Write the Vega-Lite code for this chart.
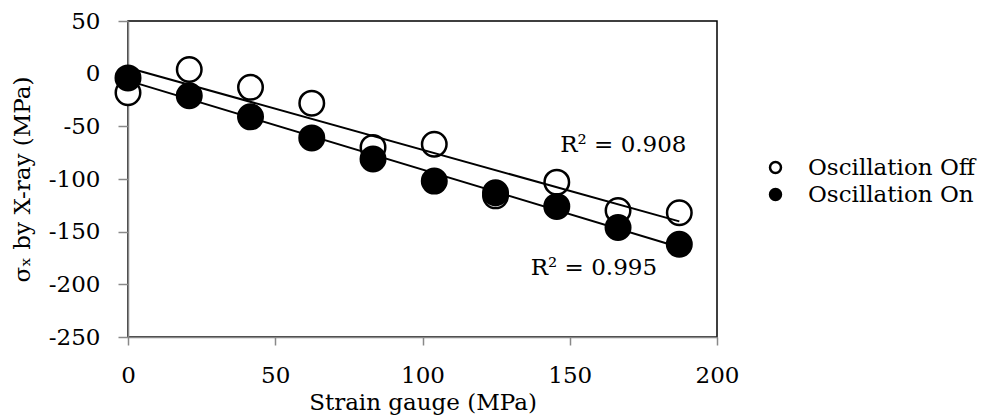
{
  "$schema": "https://vega.github.io/schema/vega-lite/v6.json",
  "width": 589,
  "height": 316,
  "autosize": {"type": "none"},
  "padding": {"left": 128, "top": 21, "right": 268, "bottom": 80},
  "background": "white",
  "config": {
    "view": {"stroke": "black", "strokeWidth": 1.5},
    "font": "DejaVu Serif"
  },
  "data": {
    "values": [
      {"series": "Oscillation Off", "x": 0, "y": -18},
      {"series": "Oscillation Off", "x": 20.8, "y": 4},
      {"series": "Oscillation Off", "x": 41.6, "y": -13},
      {"series": "Oscillation Off", "x": 62.4, "y": -28},
      {"series": "Oscillation Off", "x": 83.2, "y": -70},
      {"series": "Oscillation Off", "x": 104, "y": -67},
      {"series": "Oscillation Off", "x": 124.8, "y": -116},
      {"series": "Oscillation Off", "x": 145.6, "y": -103},
      {"series": "Oscillation Off", "x": 166.4, "y": -130},
      {"series": "Oscillation Off", "x": 187.2, "y": -132},
      {"series": "Oscillation On", "x": 0, "y": -4},
      {"series": "Oscillation On", "x": 20.8, "y": -21},
      {"series": "Oscillation On", "x": 41.6, "y": -41},
      {"series": "Oscillation On", "x": 62.4, "y": -61},
      {"series": "Oscillation On", "x": 83.2, "y": -81},
      {"series": "Oscillation On", "x": 104, "y": -102},
      {"series": "Oscillation On", "x": 124.8, "y": -113},
      {"series": "Oscillation On", "x": 145.6, "y": -126},
      {"series": "Oscillation On", "x": 166.4, "y": -146},
      {"series": "Oscillation On", "x": 187.2, "y": -162}
    ]
  },
  "layer": [
    {
      "mark": {"type": "point", "shape": "circle", "size": 600, "filled": true, "stroke": "black", "strokeWidth": 2.5, "opacity": 1},
      "encoding": {
        "x": {
          "field": "x", "type": "quantitative",
          "scale": {"domain": [0, 200], "nice": false, "zero": false},
          "axis": {
            "title": "Strain gauge (MPa)",
            "values": [0, 50, 100, 150, 200],
            "grid": false,
            "domainColor": "#898989", "domainWidth": 1.5,
            "tickColor": "#898989", "tickWidth": 1.5, "tickSize": 8,
            "labelPadding": 19, "labelFontSize": 23, "labelColor": "black",
            "labelFlush": false, "labelOverlap": false, "labelBound": false,
            "titleFontSize": 23, "titleFontWeight": "normal", "titleColor": "black",
            "titleX": 294.5, "titleY": 72, "titleBaseline": "alphabetic", "titleAlign": "center"
          }
        },
        "y": {
          "field": "y", "type": "quantitative",
          "scale": {"domain": [-250, 50], "nice": false, "zero": false},
          "axis": {
            "title": "σₓ by X-ray (MPa)",
            "values": [-250, -200, -150, -100, -50, 0, 50],
            "grid": false,
            "domainColor": "#898989", "domainWidth": 1.5,
            "tickColor": "#898989", "tickWidth": 1.5, "tickSize": 10,
            "labelPadding": 18, "labelFontSize": 23, "labelColor": "black",
            "labelOverlap": false, "labelBound": false, "labelFlush": false,
            "labelExpr": "datum.value < 0 ? '-' + abs(datum.value) : '' + datum.value",
            "titleFontSize": 23, "titleFontWeight": "normal", "titleColor": "black",
            "titleX": -99, "titleY": 158, "titleAngle": -90, "titleBaseline": "alphabetic", "titleAlign": "center"
          }
        },
        "fill": {
          "field": "series", "type": "nominal",
          "scale": {"domain": ["Oscillation Off", "Oscillation On"], "range": ["white", "black"]},
          "legend": {
            "orient": "none", "legendX": 636, "legendY": 135,
            "title": null, "symbolType": "circle", "symbolSize": 120,
            "symbolStrokeColor": "black", "symbolStrokeWidth": 2.5,
            "labelFontSize": 23, "labelColor": "black", "labelOffset": 21,
            "rowPadding": 3, "padding": 0, "labelLimit": 400
          }
        }
      }
    },
    {
      "transform": [{"regression": "y", "on": "x", "groupby": ["series"], "method": "linear"}],
      "mark": {"type": "line", "color": "black", "strokeWidth": 2},
      "encoding": {
        "x": {"field": "x", "type": "quantitative"},
        "y": {"field": "y", "type": "quantitative"},
        "detail": {"field": "series"}
      }
    },
    {
      "data": {
        "values": [
          {"label": "R² = 0.908", "x": 168.2, "y": -67.7},
          {"label": "R² = 0.995", "x": 158.2, "y": -184.8}
        ]
      },
      "mark": {"type": "text", "fontSize": 23, "baseline": "middle", "align": "center", "color": "black"},
      "encoding": {
        "x": {"field": "x", "type": "quantitative"},
        "y": {"field": "y", "type": "quantitative"},
        "text": {"field": "label"}
      }
    }
  ]
}
